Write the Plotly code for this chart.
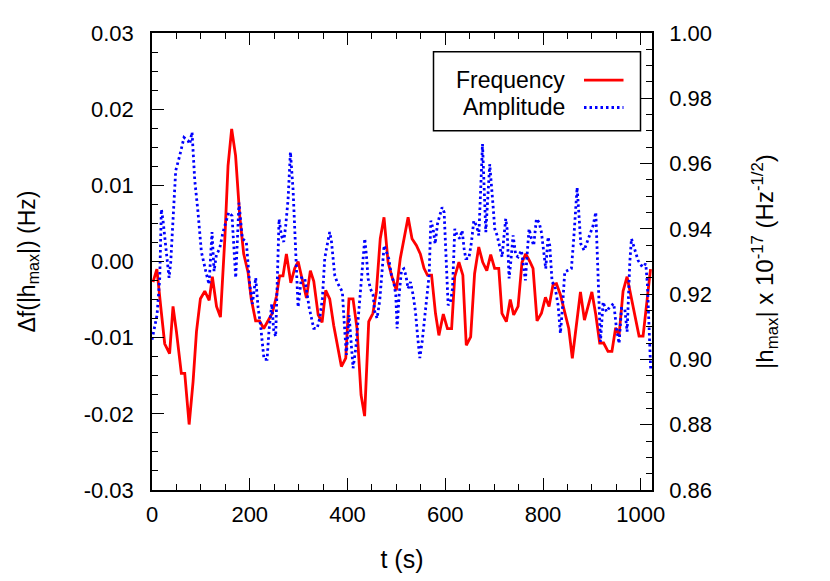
import plotly.graph_objects as go

# ---- data ----
freq_t = [2, 10, 19, 26, 36, 43, 50, 60, 67, 76, 84, 91, 99, 108, 117, 123.5, 132, 140, 149, 155.6,
          163, 171, 179.5, 187.6, 196.5, 203, 212, 220, 228.6, 237, 246, 254.5, 261, 268, 275, 284,
          292, 299, 308, 316, 324, 331, 340, 348, 355.4, 363.6, 371.8, 380.6, 387.5, 396.4, 403,
          411.3, 419.5, 427.7, 435, 443.4, 452, 459, 467, 474.7, 483, 491, 500, 508, 516.5, 524,
          532, 541, 549, 556.6, 563.5, 572, 580, 587, 596, 604.5, 613, 619.4, 628, 636, 643, 652,
          660, 668.5, 676.7, 685, 693, 701, 709.5, 716, 725, 733, 740, 749, 757, 764.7, 773, 779.6,
          787.8, 796.8, 805, 812.4, 820.6, 827.5, 835.7, 844.5, 852.7, 860, 868.4, 876.6, 884.8,
          892, 900, 908, 916, 924, 933, 941, 948.6, 955.6, 963.8, 972, 979.5, 987.7, 996.5,
          1004.7, 1013, 1020]
freq_val = [-0.0027, -0.0010, -0.0066, -0.0108, -0.0121, -0.0059, -0.0092, -0.0147, -0.0147, -0.0214,
            -0.0158, -0.0092, -0.0049, -0.0039, -0.0051, -0.0020, -0.0059, -0.0073, 0.0030, 0.0126,
            0.0174, 0.0139, 0.0060, 0.0010, -0.0014, -0.0049, -0.0078, -0.0078, -0.0088, -0.0078,
            -0.0068, -0.0046, -0.0019, -0.0019, 0.0010, -0.0028, -0.0009, 0.0000, -0.0025, -0.0048,
            -0.0012, -0.0026, -0.0070, -0.0080, -0.0038, -0.0049, -0.0084, -0.0116, -0.0138, -0.0127,
            -0.0049, -0.0049, -0.0088, -0.0175, -0.0203, -0.0079, -0.0068, -0.0040, 0.0030, 0.0058,
            -0.0001, -0.0020, -0.0038, 0.0004, 0.0032, 0.0058, 0.0030, 0.0021, 0.0010, -0.0009,
            -0.0018, -0.0018, -0.0068, -0.0097, -0.0069, -0.0088, -0.0088, -0.0020, -0.0001, -0.0018,
            -0.0110, -0.0099, -0.0016, 0.0019, -0.0001, -0.0012, 0.0009, -0.0009, -0.0009, -0.0068,
            -0.0079, -0.0050, -0.0070, -0.0059, -0.0001, 0.0010, 0.0000, -0.0009, -0.0078, -0.0068,
            -0.0047, -0.0059, -0.0030, -0.0029, -0.0044, -0.0068, -0.0088, -0.0127, -0.0084, -0.0040,
            -0.0077, -0.0059, -0.0040, -0.0070, -0.0107, -0.0107, -0.0118, -0.0118, -0.0087, -0.0097,
            -0.0039, -0.0020, -0.0044, -0.0066, -0.0098, -0.0098, -0.0053, -0.0010]

amp_t = [0, 10.3, 15.8, 19.2, 22.6, 26, 30.8, 34.9, 38.3, 43, 48.5, 56.7, 65.5, 73.7, 77.1, 81.9,
         87.4, 94.2, 101, 110, 116.7, 122.8, 127, 131.7, 138.5, 145.3, 150.8, 156.9, 163.7, 171.3,
         178, 184.9, 193, 199.9, 205.4, 212.2, 217, 222.4, 229.2, 235.4, 239.5, 245, 249, 253, 260,
         264.7, 269.5, 273.6, 278.4, 283.2, 288.6, 293.4, 298.9, 305.7, 312.5, 321.4, 330.9, 337.8,
         343.2, 348.6, 353.4, 358.2, 363.6, 367, 370.5, 373.9, 378.6, 384.1, 389.5, 392.3, 394.3,
         397.7, 403.2, 408, 411.4, 416.9, 421.6, 426.4, 430.5, 435.3, 438.7, 442.1, 446.9, 452.4,
         455.8, 460.5, 466, 470.8, 474.9, 479.7, 484.4, 489.9, 494.7, 498.8, 501.5, 505.6, 510.4,
         515.2, 519.3, 524, 528.8, 534.3, 539.1, 543.2, 547.9, 552.7, 558.2, 563, 567, 570.5, 575.2,
         579.3, 584.1, 588.8, 593.6, 597.7, 602.5, 605.9, 610.7, 614.8, 619.5, 624.3, 629.7, 634.5,
         638.6, 642, 648.2, 653.6, 658.4, 663.9, 668.7, 672.8, 676.2, 683, 691, 697.8, 701.3, 706,
         711.5, 716.3, 719.7, 723.8, 726.5, 730.6, 734, 738.8, 744.2, 749, 755.8, 760.6, 764, 767.4,
         771.5, 776.3, 781, 786.5, 792, 796.7, 801.5, 805.6, 810.4, 813.8, 818.6, 824, 830.9, 835.6,
         839.7, 844.5, 851.3, 858.1, 862.9, 867, 869.8, 873.2, 877.3, 884.1, 888.9, 895.7, 902.5,
         908, 910.7, 914.1, 917.5, 923, 929.8, 936.6, 944.8, 950.3, 955.7, 960.5, 967.3, 972.1,
         977.6, 981, 987.8, 994.6, 1003.5, 1010.3, 1013.7, 1017.1, 1020.5]
amp_val = [0.906, 0.9136, 0.9248, 0.946, 0.9425, 0.938, 0.9309, 0.925, 0.9298, 0.944, 0.9578, 0.9624,
           0.968, 0.967, 0.966, 0.9696, 0.955, 0.945, 0.933, 0.927, 0.923, 0.939, 0.927, 0.932, 0.934,
           0.939, 0.942, 0.945, 0.944, 0.925, 0.948, 0.937, 0.936, 0.923, 0.917, 0.925, 0.916, 0.910,
           0.900, 0.900, 0.909, 0.917, 0.909, 0.907, 0.943, 0.938, 0.936, 0.941, 0.949, 0.9635, 0.952,
           0.935, 0.916, 0.925, 0.925, 0.916, 0.9095, 0.9095,
           0.9126, 0.9187, 0.9309, 0.9349, 0.9390, 0.9364, 0.9309, 0.9258, 0.9237, 0.9222, 0.9207,
           0.9136, 0.9075, 0.9014, 0.9136, 0.9034, 0.8973, 0.9034, 0.9126, 0.9207, 0.9288, 0.9370,
           0.9319, 0.9248, 0.9217, 0.9197, 0.9146, 0.9126, 0.9181, 0.9268, 0.9349, 0.9329, 0.9309,
           0.9258, 0.9237, 0.9197, 0.9095, 0.9197, 0.9273, 0.9278, 0.9258, 0.9217, 0.9237, 0.9197,
           0.9146, 0.9075, 0.9004, 0.9054, 0.9136, 0.9197, 0.9258, 0.9425, 0.9400, 0.9354, 0.9415,
           0.9441, 0.9466, 0.9451, 0.9288, 0.9166, 0.9176, 0.9217, 0.9400, 0.9380, 0.9370, 0.9395,
           0.9339, 0.9309, 0.9309, 0.9359, 0.9425, 0.9410, 0.9380, 0.9512, 0.966, 0.939, 0.9598,
           0.9471, 0.9400, 0.9380, 0.9349, 0.9314, 0.9370, 0.9431, 0.9400, 0.9248, 0.9298, 0.9380,
           0.9319, 0.9314, 0.9334, 0.9278, 0.9242, 0.9319, 0.9400, 0.9370, 0.9349, 0.9431, 0.9420,
           0.9390, 0.9319, 0.9278, 0.9375, 0.9349, 0.9237, 0.9227, 0.9166, 0.9080, 0.9156, 0.9268,
           0.9273, 0.9278, 0.9370, 0.9471, 0.9527, 0.9451, 0.9354, 0.9334, 0.9354, 0.9380, 0.9410,
           0.9451, 0.9349, 0.9197, 0.9054, 0.9176, 0.9146, 0.9161, 0.9171, 0.9095, 0.9049, 0.9156,
           0.9156, 0.9085, 0.9298, 0.9370, 0.9339, 0.9303, 0.9283, 0.9293, 0.9227, 0.9095, 0.8963]

x_ticks = [0, 200, 400, 600, 800, 1000]
x_labels = ["0", "200", "400", "600", "800", "1000"]
yl_ticks = [-0.03, -0.02, -0.01, 0.0, 0.01, 0.02, 0.03]
yl_labels = ["-0.03", "-0.02", "-0.01", "0.00", "0.01", "0.02", "0.03"]
yr_ticks = [0.86, 0.88, 0.90, 0.92, 0.94, 0.96, 0.98, 1.00]
yr_labels = ["0.86", "0.88", "0.90", "0.92", "0.94", "0.96", "0.98", "1.00"]
series_names = ["Frequency", "Amplitude"]
series_colors = ["#ff0000", "#0000ff"]

FONT = "Liberation Sans, Arial, Helvetica, sans-serif"
FS = 22

fig = go.Figure()
fig.add_trace(go.Scatter(x=freq_t, y=freq_val, mode="lines", name=series_names[0],
                         line=dict(color=series_colors[0], width=2.8), yaxis="y", showlegend=False))
fig.add_trace(go.Scatter(x=amp_t, y=amp_val, mode="lines", name=series_names[1],
                         line=dict(color=series_colors[1], width=2.8, dash="2.5px,3px"), yaxis="y2",
                         showlegend=False))

axis_common = dict(showline=True, linecolor="black", linewidth=1.5, showgrid=False, zeroline=False,
                   ticks="inside", ticklen=12, tickwidth=1.2, tickcolor="black",
                   tickfont=dict(family=FONT, size=FS, color="black"))

# page body has an 8px margin, so the figure is 8px smaller and the margins shifted
fig.update_layout(
    width=822, height=573,
    margin=dict(l=144, r=178, t=25, b=89),
    paper_bgcolor="white", plot_bgcolor="white",
    font=dict(family=FONT, size=FS, color="black"),
    xaxis=dict(range=[0, 1023], tickvals=x_ticks, ticktext=x_labels, mirror="ticks",
               minor=dict(dtick=50, ticks="inside", ticklen=6, tickcolor="black", tickwidth=1.2),
               ticklabelstandoff=4,
               title=dict(text="t (s)", font=dict(family=FONT, size=25), standoff=24),
               **axis_common),
    yaxis=dict(range=[-0.03, 0.03], tickvals=yl_ticks, ticktext=yl_labels, mirror=True,
               minor=dict(dtick=0.0025, ticks="inside", ticklen=6, tickcolor="black", tickwidth=1.2),
               ticklabelstandoff=12,
               title=dict(text="Δf(|h<sub>max</sub>|) (Hz)", font=dict(family=FONT, size=23),
                          standoff=42),
               **axis_common),
    yaxis2=dict(range=[0.86, 1.00], tickvals=yr_ticks, ticktext=yr_labels, overlaying="y",
                side="right",
                minor=dict(dtick=0.005, ticks="inside", ticklen=6, tickcolor="black", tickwidth=1.2),
                ticklabelstandoff=11,
                title=dict(text="|h<sub>max</sub>| x 10<sup>-17</sup> (Hz<sup>-1/2</sup>)",
                           font=dict(family=FONT, size=24), standoff=45),
                **axis_common),
)

# custom legend box (text to the left of the line sample, as in the reference)
lx0, lx1, ly0, ly1 = 0.563, 0.977, 0.786, 0.959
fig.add_shape(type="rect", xref="paper", yref="paper", x0=lx0, x1=lx1, y0=ly0, y1=ly1,
              line=dict(color="black", width=1.5), fillcolor="white", layer="above")
rows_y = [0.897, 0.837]
for name, col, ry, dash in zip(series_names, series_colors, rows_y, ["solid", "2.5px,3px"]):
    fig.add_annotation(xref="paper", yref="paper", x=0.830, y=ry, text=name, showarrow=False,
                       xanchor="right", yanchor="middle",
                       font=dict(family=FONT, size=FS + 1, color="black"))
    fig.add_shape(type="line", xref="paper", yref="paper", x0=0.864, x1=0.943, y0=ry, y1=ry,
                  line=dict(color=col, width=2.8, dash=dash), layer="above")

fig.write_html("out.html")
